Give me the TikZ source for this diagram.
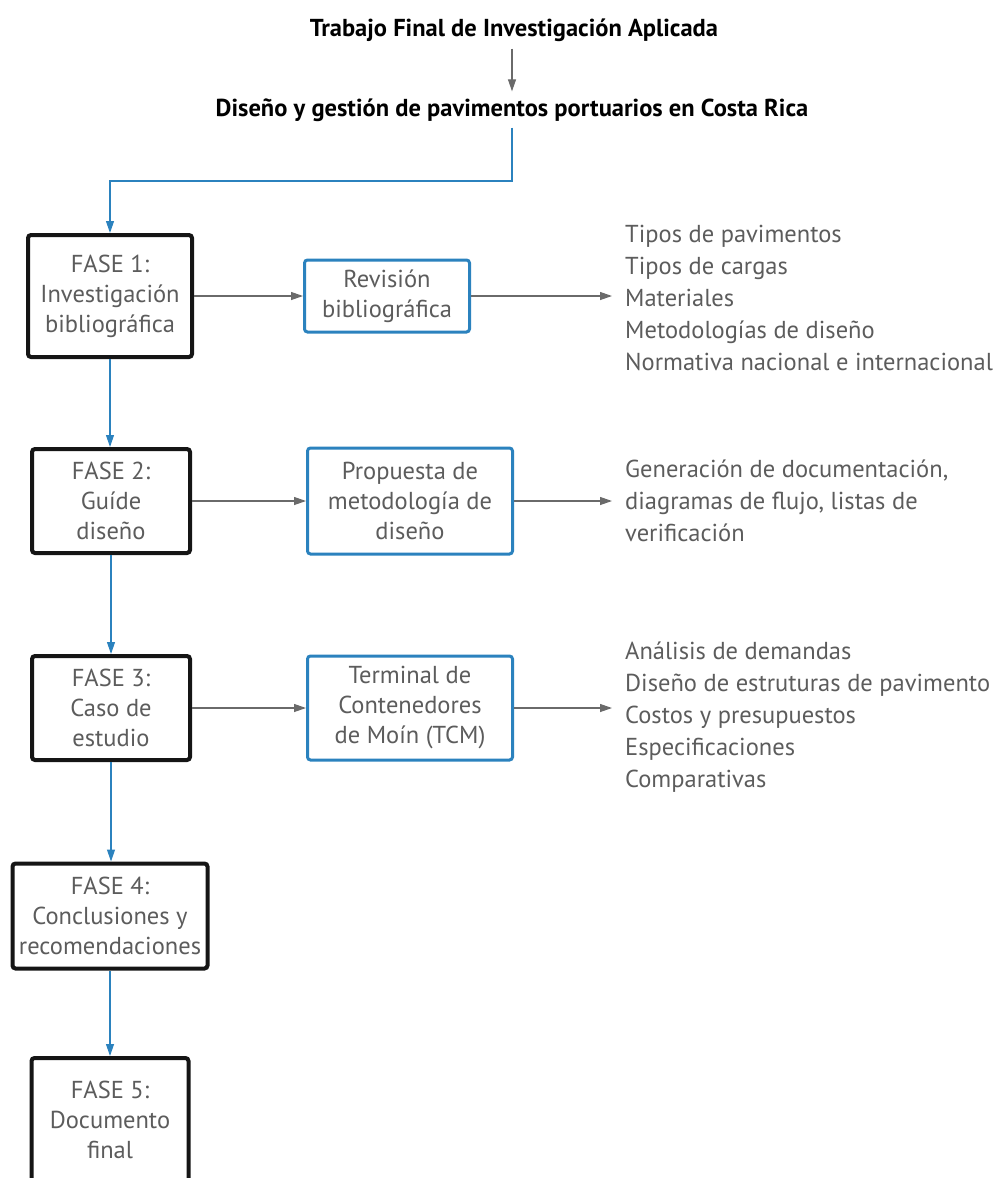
\documentclass[tikz,border=0pt]{standalone}
\usepackage{fontspec}
\setmainfont{PT Sans}
\usetikzlibrary{arrows.meta}
\definecolor{txt}{HTML}{5C5C5C}
\definecolor{bord}{HTML}{151515}
\definecolor{blu}{HTML}{2B82BE}
\definecolor{gar}{HTML}{6A6A6A}
\tikzset{
  titlenode/.style={font=\fontsize{24.5}{28}\selectfont\bfseries, text=black, inner sep=0pt},
  phase/.style={draw=bord, line width=4pt, rounded corners=3pt, fill=white, text=txt, align=center,
     font=\fontsize{24.5}{30}\selectfont, inner sep=0pt},
  sub/.style={draw=blu, line width=3pt, rounded corners=3pt, fill=white, text=txt, align=center,
     font=\fontsize{24.5}{30}\selectfont, inner sep=0pt},
  listnode/.style={anchor=west, text=txt, align=left, font=\fontsize{24.5}{32}\selectfont, inner xsep=13pt, inner ysep=0pt},
  garrow/.style={draw=gar, line width=1.2pt, -{Triangle[length=12pt,width=8pt]}},
  barrow/.style={draw=blu, line width=1.2pt, -{Triangle[length=12pt,width=8pt]}},
}
\begin{document}
\begin{tikzpicture}[x=1pt,y=-1pt]
\useasboundingbox (0,0) rectangle (999,1178);

\node[titlenode] (t1) at (514,30) {Trabajo Final de Investigación Aplicada};
\node[titlenode] (t2) at (512,110) {Diseño y gestión de pavimentos portuarios en Costa Rica};
\draw[garrow] ([yshift=-7pt]t2.north |- t1.south) -- ([yshift=7pt]t2.north);

\node[phase, minimum width=164pt, minimum height=122pt] (f1) at (110,296) {FASE 1:\\Investigación\\bibliográfica};
\node[sub, minimum width=165pt, minimum height=72pt] (r1) at (387,296) {Revisión\\bibliográfica};
\node[listnode] (l1) at (612,298) {Tipos de pavimentos\\Tipos de cargas\\Materiales\\Metodologías de diseño\\Normativa nacional e internacional};

\node[phase, minimum width=158pt, minimum height=104pt] (f2) at (111,501) {FASE 2:\\Guíde\\diseño};
\node[sub, minimum width=205pt, minimum height=106pt] (p2) at (410,501) {Propuesta de\\metodología de\\diseño};
\node[listnode] (l2) at (612,501) {Generación de documentación,\\diagramas de flujo, listas de\\verificación};

\node[phase, minimum width=158pt, minimum height=104pt] (f3) at (111,708) {FASE 3:\\Caso de\\estudio};
\node[sub, minimum width=205pt, minimum height=104pt] (p3) at (410,708) {Terminal de\\Contenedores\\de Moín (TCM)};
\node[listnode] (l3) at (612,717) {Análisis de demandas\\Diseño de estruturas de pavimento\\Costos y presupuestos\\Especificaciones\\Comparativas};

\node[phase, minimum width=195pt, minimum height=105pt] (f4) at (110,916) {FASE 4:\\Conclusiones y\\recomendaciones};
\node[phase, minimum width=157pt, minimum height=124pt] (f5) at (110,1120) {FASE 5:\\Documento\\final};

\coordinate (bend) at (512,181);
\draw[barrow] ([yshift=-6pt]t2.south) -- (bend) -| (f1.north);
\draw[barrow] (f1.south) -- (f1.south |- f2.north);
\draw[barrow] (f2.south) -- (f3.north);
\draw[barrow] (f3.south) -- (f3.south |- f4.north);
\draw[barrow] (f4.south) -- (f4.south |- f5.north);

\draw[garrow] (f1.east) -- (r1.west);
\draw[garrow] (r1.east) -- (r1.east -| l1.west);
\draw[garrow] (f2.east) -- (p2.west);
\draw[garrow] (p2.east) -- (p2.east -| l2.west);
\draw[garrow] (f3.east) -- (p3.west);
\draw[garrow] (p3.east) -- (p3.east -| l3.west);
\end{tikzpicture}
\end{document}
